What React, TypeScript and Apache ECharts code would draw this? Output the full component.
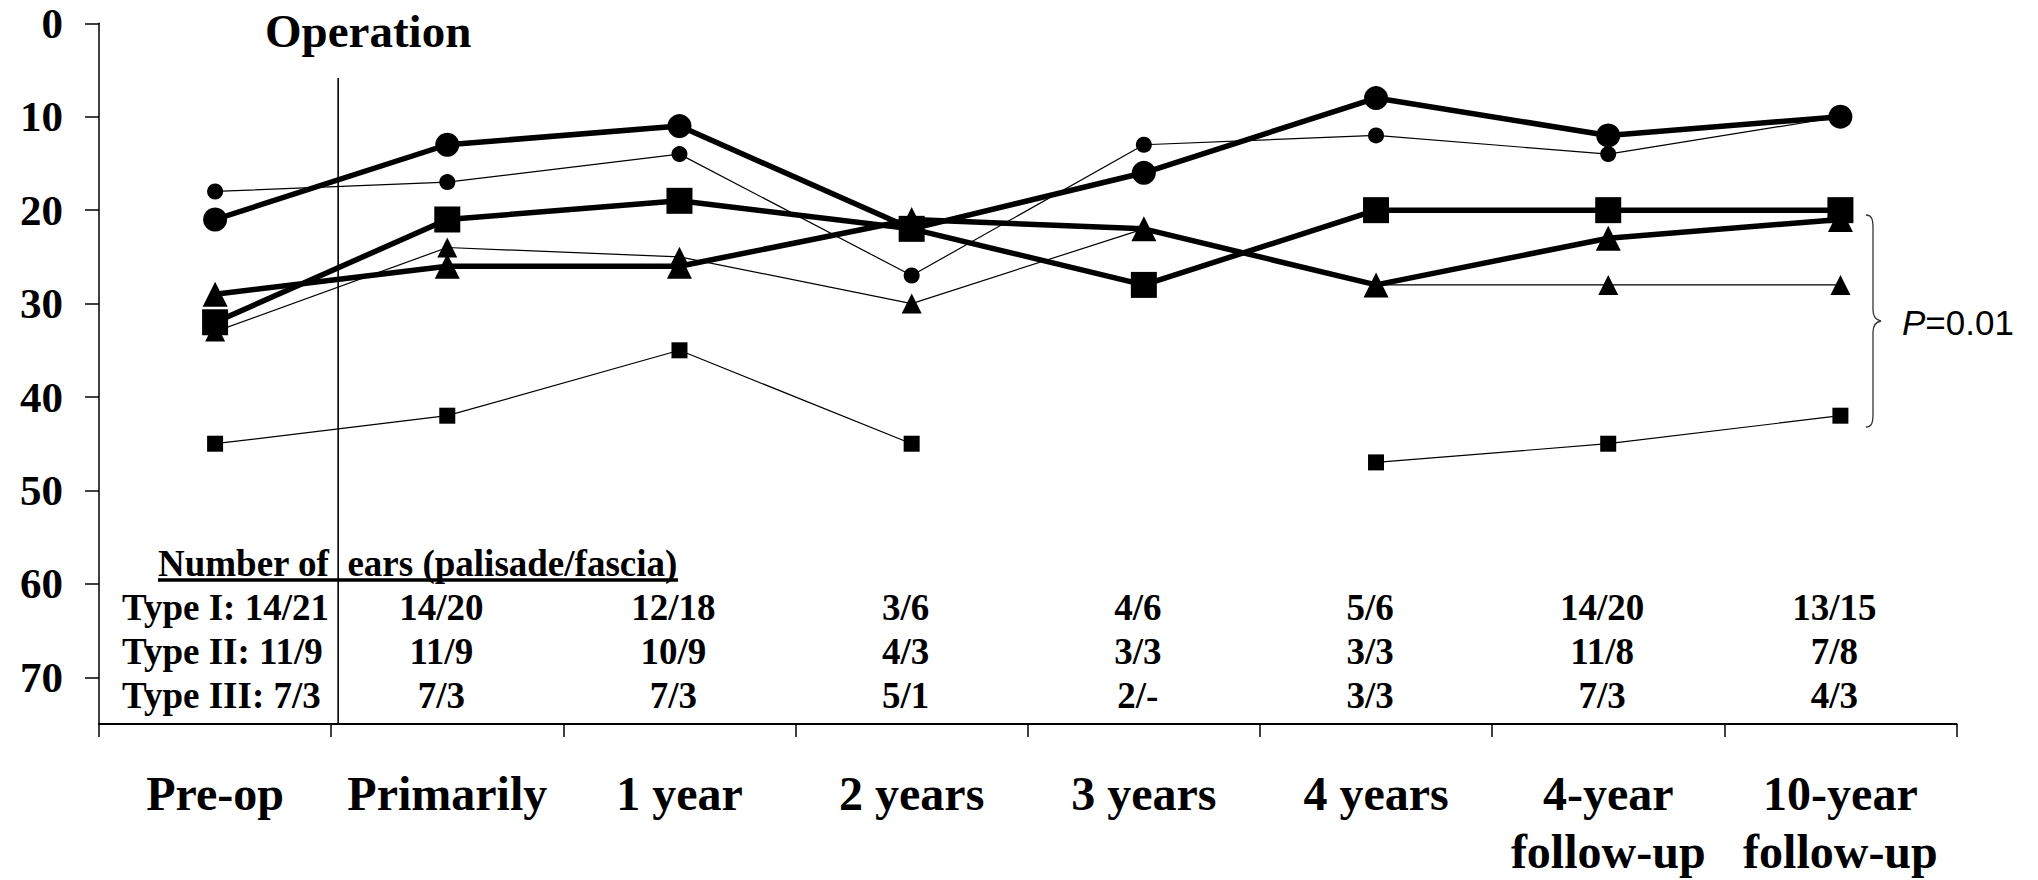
import React, { useEffect, useRef } from 'react';
import * as echarts from 'echarts';

const categories = ['Pre-op', 'Primarily', '1 year', '2 years', '3 years', '4 years', '4-year\nfollow-up', '10-year\nfollow-up'];
const yTicks = [0, 10, 20, 30, 40, 50, 60, 70];

const circleThick = [21, 13, 11, 22, 16, 8, 12, 10];
const circleThin = [18, 17, 14, 27, 13, 12, 14, 10];
const squareThick = [32, 21, 19, 22, 28, 20, 20, 20];
const squareThin = [45, 42, 35, 45, null, 47, 45, 42];
const triangleThick = [29, 26, 26, 21, 22, 28, 23, 21];
const triangleThin = [33, 24, 25, 30, 22, 28, 28, 28];

const tableHeader = 'Number of  ears (palisade/fascia)';
const rowLabels = ['Type I: 14/21', 'Type II: 11/9', 'Type III: 7/3'];
const typeI = ['14/20', '12/18', '3/6', '4/6', '5/6', '14/20', '13/15'];
const typeII = ['11/9', '10/9', '4/3', '3/3', '3/3', '11/8', '7/8'];
const typeIII = ['7/3', '7/3', '5/1', '2/-', '3/3', '7/3', '4/3'];
const operationLabel = 'Operation';
const pLabel = '{it|P}=0.01';

const SERIF = 'Liberation Serif';
const SANS = 'Liberation Sans';

function measure(text: string, font: string): number {
  const c = document.createElement('canvas');
  const ctx = c.getContext('2d');
  if (!ctx) return text.length * 16;
  ctx.font = font;
  return ctx.measureText(text).width;
}

export default function App() {
  const ref = useRef<HTMLDivElement>(null);
  useEffect(() => {
    document.body.style.margin = '0';
    if (!ref.current) return;
    const chart = echarts.init(ref.current, null, { renderer: 'svg' });
    const thin = (name: string, data: (number | null)[], symbol: string, size: number) => ({
      name, type: 'line', data, symbol, symbolSize: size, showAllSymbol: true,
      lineStyle: { color: '#000', width: 1.2 }, itemStyle: { color: '#000' }, z: 2,
    });
    const thick = (name: string, data: (number | null)[], symbol: string, size: number) => ({
      name, type: 'line', data, symbol, symbolSize: size, showAllSymbol: true,
      lineStyle: { color: '#000', width: 5.5 }, itemStyle: { color: '#000' }, z: 3,
    });
    const bold = { color: '#000', fontFamily: SERIF, fontWeight: 'bold' as const };
    chart.setOption({
      animation: false,
      grid: { left: 99, right: 81.5, top: 23.3, bottom: 150, containLabel: false },
      xAxis: {
        type: 'category', data: categories, boundaryGap: true,
        axisLine: { onZero: false, lineStyle: { color: '#000', width: 2 } },
        axisTick: { show: true, length: 13, lineStyle: { color: '#000', width: 1.5 } },
        axisLabel: { ...bold, fontSize: 48, interval: 0, margin: 40, lineHeight: 58 },
        splitLine: { show: false },
      },
      yAxis: {
        type: 'value', inverse: true, min: 0, max: 75, interval: 10,
        axisLine: { show: true, lineStyle: { color: '#000', width: 1.5 } },
        axisTick: { show: true, length: 14, customValues: yTicks, lineStyle: { color: '#000', width: 1.5 } },
        axisLabel: { ...bold, fontSize: 43, margin: 36, padding: [9, 0, 0, 0], customValues: yTicks },
        splitLine: { show: false },
      },
      series: [
        thin('Type I thin', circleThin, 'circle', 16),
        thin('Type II thin', triangleThin, 'triangle', 20),
        thin('Type III thin', squareThin, 'rect', 16),
        thick('Type III thick', squareThick, 'rect', 26),
        thick('Type II thick', triangleThick, 'triangle', 25),
        thick('Type I thick', circleThick, 'circle', 24),
      ],
    });

    const cx = (i: number) => chart.convertToPixel({ xAxisIndex: 0 }, i) as number;
    const opX = cx(0) + 0.53 * (cx(1) - cx(0));
    const gridBottom = chart.convertToPixel({ yAxisIndex: 0 }, 75) as number;
    const headerFont = `bold 37px "${SERIF}"`;
    const headerW = measure(tableHeader, headerFont);
    const rowY = [607, 651, 695];
    const rows = [typeI, typeII, typeIII];
    const txt = (text: string, x: number, y: number, align: string, size = 37) => ({
      type: 'text', x, y, silent: true,
      style: { text, fill: '#000', font: `bold ${size}px "${SERIF}"`, align, verticalAlign: 'middle' },
    });
    const g: any[] = [];
    g.push({ type: 'line', shape: { x1: opX, y1: 78, x2: opX, y2: gridBottom }, style: { stroke: '#000', lineWidth: 1.6 }, z: 10 });
    g.push(txt(operationLabel, 265, 31, 'left', 47));
    g.push(txt(tableHeader, 158, 563, 'left'));
    g.push({ type: 'line', shape: { x1: 158, y1: 580, x2: 158 + headerW, y2: 580 }, style: { stroke: '#000', lineWidth: 3.3 } });
    rowLabels.forEach((t, r) => g.push(txt(t, 122, rowY[r], 'left')));
    rows.forEach((vals, r) => {
      vals.forEach((v, i) => g.push(txt(v, cx(i + 1) - 6, rowY[r], 'center')));
    });
    const bs = { stroke: '#333', lineWidth: 1.3, fill: null };
    g.push({ type: 'bezierCurve', shape: { x1: 1866, y1: 215, cpx1: 1872, cpy1: 215, cpx2: 1873, cpy2: 220, x2: 1873, y2: 228 }, style: bs });
    g.push({ type: 'line', shape: { x1: 1873, y1: 228, x2: 1873, y2: 310 }, style: bs });
    g.push({ type: 'bezierCurve', shape: { x1: 1873, y1: 310, cpx1: 1873, cpy1: 317, cpx2: 1876, cpy2: 320, x2: 1881, y2: 321 }, style: bs });
    g.push({ type: 'bezierCurve', shape: { x1: 1881, y1: 321, cpx1: 1876, cpy1: 322, cpx2: 1873, cpy2: 325, x2: 1873, y2: 332 }, style: bs });
    g.push({ type: 'line', shape: { x1: 1873, y1: 332, x2: 1873, y2: 414 }, style: bs });
    g.push({ type: 'bezierCurve', shape: { x1: 1873, y1: 414, cpx1: 1873, cpy1: 422, cpx2: 1872, cpy2: 427, x2: 1866, y2: 427 }, style: bs });
    g.push({
      type: 'text', x: 1902, y: 322, silent: true,
      style: {
        text: pLabel, fill: '#000', fontFamily: SANS, fontSize: 35, align: 'left', verticalAlign: 'middle',
        rich: { it: { fontStyle: 'italic', fontFamily: SANS, fontSize: 35, fill: '#000' } },
      },
    });
    chart.setOption({ graphic: g });
    return () => chart.dispose();
  }, []);
  return <div ref={ref} style={{ width: 2038, height: 880 }} />;
}
